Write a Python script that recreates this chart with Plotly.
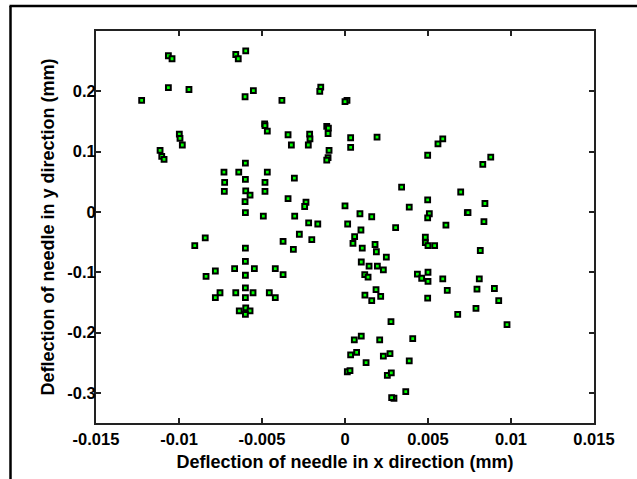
import plotly.graph_objects as go

x_defl = [
    -0.01225, -0.01064, -0.01042, -0.01064, -0.0094, -0.00998, -0.00994, -0.0098,
    -0.01114, -0.01104, -0.0109, -0.00658, -0.00643, -0.00598, -0.00602, -0.00552,
    -0.00484, -0.00482, -0.00468, -0.0038, -0.00729, -0.00725, -0.00727, -0.0064,
    -0.006, -0.006, -0.00598, -0.00572, -0.00602, -0.00468, -0.00482, -0.00482,
    -0.00146, -0.00152, 0.00012, 0.0, -0.00343, -0.00323, -0.00213, -0.00211,
    -0.00221, -0.0011, -0.001, -0.00102, 0.00034, 0.00034, 0.00193, -0.00096,
    -0.00102, -0.0011, 0.00589, 0.0056, 0.00498, -0.00305, 0.00341, 0.00697,
    -0.00343, -0.00235, -0.00243, 0.0, 0.00498, 0.00387,
    0.00878, 0.0083, 0.00843,
    -0.006, -0.00492, -0.00842, -0.00905, -0.006, -0.006, -0.00665, -0.00546,
    -0.00781, -0.006, -0.00837, -0.0042, -0.006, -0.00753, -0.00781, -0.00658,
    -0.006, -0.00554, -0.00456, -0.0042, -0.00637, -0.00598, -0.00572, -0.006,
    0.00508, 0.00498, 0.00737, -0.00303, -0.00219, -0.00164, -0.00275, -0.002,
    -0.00373, -0.00311, -0.00373, 0.0009, 0.00161, 0.00016, 0.00096, 0.00305,
    0.00058, 0.00048, 0.00104, 0.00181, 0.00189, 0.00249, 0.00098, 0.00145,
    0.00195, 0.00231, 0.00119, 0.00139, 0.00187, 0.0012, 0.00215, 0.00161,
    0.00484, 0.00484, 0.005, 0.0054, 0.00608, 0.00436, 0.00462, 0.005,
    0.005, 0.00589, 0.00616, 0.00498, 0.00679, 0.00277, 0.00098, 0.00056,
    0.00209, 0.00408, 0.0007, 0.00034, 0.00231, 0.00271, 0.00127, 0.00387,
    0.00014, 0.0003, 0.00255, 0.00279, 0.00366, 0.00295, 0.00281,
    0.00741, 0.00837, 0.00815, 0.00809, 0.00795, 0.009, 0.00926, 0.00789, 0.00976,
]

y_defl = [
    0.185, 0.259, 0.254, 0.206, 0.203, 0.129, 0.122, 0.111,
    0.102, 0.092, 0.087, 0.261, 0.254, 0.267, 0.191, 0.201,
    0.146, 0.143, 0.134, 0.185, 0.066, 0.049, 0.034, 0.066,
    0.081, 0.054, 0.035, 0.028, 0.017, 0.066, 0.049, 0.034,
    0.207, 0.200, 0.185, 0.183, 0.128, 0.111, 0.129, 0.121,
    0.111, 0.142, 0.139, 0.130, 0.123, 0.107, 0.124, 0.102,
    0.090, 0.086, 0.121, 0.113, 0.094, 0.056, 0.041, 0.033,
    0.022, 0.016, 0.009, 0.010, 0.020, 0.008,
    0.091, 0.079, 0.014,
    -0.001, -0.007, -0.043, -0.056, -0.060, -0.082, -0.094, -0.094,
    -0.098, -0.105, -0.107, -0.094, -0.126, -0.134, -0.142, -0.134,
    -0.142, -0.134, -0.134, -0.142, -0.164, -0.159, -0.164, -0.170,
    -0.003, -0.010, -0.001, -0.007, -0.018, -0.020, -0.037, -0.046,
    -0.049, -0.062, -0.104, -0.003, -0.008, -0.020, -0.030, -0.026,
    -0.041, -0.052, -0.060, -0.054, -0.066, -0.075, -0.083, -0.090,
    -0.090, -0.096, -0.104, -0.108, -0.129, -0.138, -0.140, -0.147,
    -0.042, -0.051, -0.056, -0.056, -0.022, -0.103, -0.110, -0.100,
    -0.115, -0.111, -0.130, -0.143, -0.170, -0.182, -0.206, -0.212,
    -0.212, -0.210, -0.233, -0.237, -0.239, -0.235, -0.250, -0.247,
    -0.265, -0.263, -0.271, -0.267, -0.298, -0.309, -0.308,
    -0.001, -0.016, -0.064, -0.111, -0.128, -0.127, -0.147, -0.160, -0.187,
]

x_ticks = [-0.015, -0.01, -0.005, 0, 0.005, 0.01, 0.015]
x_tick_labels = ["-0.015", "-0.01", "-0.005", "0", "0.005", "0.01", "0.015"]
y_ticks = [0.2, 0.1, 0, -0.1, -0.2, -0.3]
y_tick_labels = ["0.2", "0.1", "0", "-0.1", "-0.2", "-0.3"]

x_title = "Deflection of needle in x direction (mm)"
y_title = "Deflection of needle in y direction (mm)"

W, H = 637, 479
L, R, T, B = 96, 43, 31, 56
pw, ph = W - L - R, H - T - B

fig = go.Figure()
fig.add_trace(go.Scatter(
    x=x_defl, y=y_defl, mode="markers",
    marker=dict(symbol="square", size=4.8, color="#00ff00",
                line=dict(color="black", width=2)),
    showlegend=False,
))

family = "Arial, Liberation Sans, sans-serif"
tick_font = dict(family=family, size=16.5, color="black", weight="bold")
title_font = dict(family=family, size=18, color="black", weight="bold")

axis_common = dict(
    showline=True, linecolor="#222222", linewidth=2, mirror="ticks",
    ticks="inside", ticklen=5, tickwidth=1.5, tickcolor="#222222",
    showgrid=False, zeroline=False, tickfont=tick_font, automargin=False,
)

fig.update_xaxes(range=[-0.015, 0.015], tickvals=x_ticks, ticktext=x_tick_labels,
                 title=dict(text=x_title, font=title_font, standoff=9), **axis_common)
fig.update_yaxes(range=[-0.35, 0.3], tickvals=y_ticks, ticktext=y_tick_labels,
                 ticklabelstandoff=-5,
                 title=dict(text=y_title, font=title_font, standoff=8), **axis_common)

def px_x(p):
    return (p - L) / pw

def px_y(p):
    return 1 - (p - T) / ph

frame_left, frame_top = 10.5, 6
fig.add_shape(type="line", xref="paper", yref="paper", layer="above",
              x0=px_x(frame_left - 1), x1=px_x(W + 5), y0=px_y(frame_top), y1=px_y(frame_top),
              line=dict(color="black", width=2.5))
fig.add_shape(type="line", xref="paper", yref="paper", layer="above",
              x0=px_x(frame_left), x1=px_x(frame_left), y0=px_y(frame_top), y1=px_y(H + 5),
              line=dict(color="black", width=2.5))

fig.update_layout(
    width=W, height=H,
    margin=dict(l=L, r=R, t=T, b=B),
    paper_bgcolor="white", plot_bgcolor="white",
)

fig.write_html("out.html", config={"displayModeBar": False},
               post_script="document.body.style.margin='0';document.body.style.overflow='hidden';")
